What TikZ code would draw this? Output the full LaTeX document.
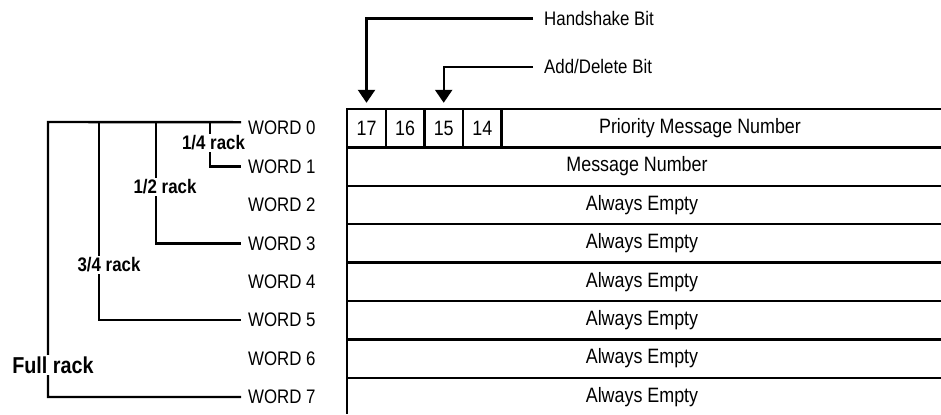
\documentclass[tikz,border=0pt]{standalone}
\usepackage{fontspec}
\setmainfont[FakeStretch=0.86]{Liberation Sans}
\usetikzlibrary{arrows.meta, positioning}

\begin{document}
\begin{tikzpicture}[x=0.5pt, y=-0.5pt, line width=1.2pt,
  every node/.style={font=\fontsize{9.8}{12}\selectfont},
  cell/.style={font=\fontsize{10.4}{12}\selectfont},
  word/.style={anchor=west, inner xsep=3pt, inner ysep=0pt},
  rack/.style={fill=white, inner sep=1pt, font=\fontsize{9.8}{12}\selectfont\bfseries},
  bitcell/.style={draw, minimum width=19.3pt, minimum height=19.2pt, inner sep=0pt},
  hint/.style={anchor=west, inner xsep=5pt},
  arr/.style={-{Triangle[width=8.5pt, length=6.5pt]}, shorten >=2.5pt}]
\useasboundingbox (0,0) rectangle (941,414);

% table rows
\foreach \k in {0,...,7}
  \draw (347,{109+38.4*\k}) -- (941,{109+38.4*\k});
\draw (347,109) -- (347,414);
\foreach \b [count=\i from 0] in {17,16,15,14}
  \node[bitcell, cell] (c\b) at ({366.5+38.6*\i},128.2) {\b};

\node[cell] (r0) at (700,128.2) {Priority Message Number};
\node[cell] (r1) at (637,166.6) {Message Number};
\foreach \k in {2,...,7}
  \node[cell] (r\k) at (642,{128.2+38.4*\k}) {Always Empty};

% word labels
\foreach \k in {0,...,7}
  \node[word] (w\k) at (241,{128.2+38.4*\k}) {WORD \k};

% rack brackets
\coordinate (full) at (48,122);
\coordinate (threeq) at (99,122);
\coordinate (half) at (156,122);
\coordinate (quarter) at (210,122);
\draw ([yshift=3pt]w0.west) -- (full) |- (w7.west);
\draw (threeq) |- (w5.west);
\draw (half) |- (w3.west);
\draw (quarter) |- (w1.west);

\node[rack] at (213.5,143) {1/4 rack};
\node[rack] at (165,187) {1/2 rack};
\node[rack] at (109,265) {3/4 rack};
\node[rack, font=\fontsize{11.5}{13}\selectfont\bfseries] at (53,365) {Full rack};

% bit pointers
\node[hint] (hs) at (533,18.3) {Handshake Bit};
\node[hint] (ad) at (533,66.7) {Add/Delete Bit};
\draw[arr] (hs.west) -| (c17.north);
\draw[arr] (ad.west) -| (c15.north);
\end{tikzpicture}
\end{document}
